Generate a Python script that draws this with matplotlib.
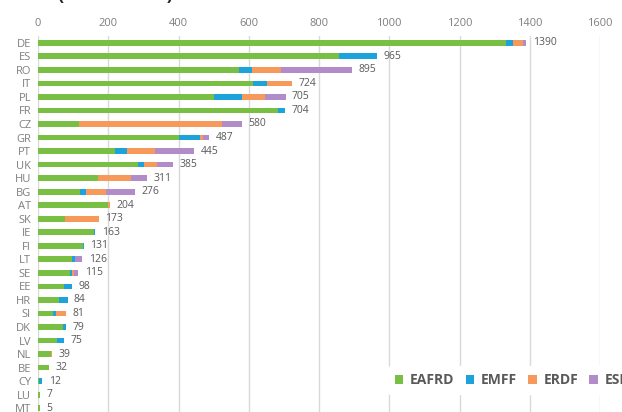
import numpy as np
import matplotlib.pyplot as plt

plt.rcParams['font.family'] = ['Open Sans', 'DejaVu Sans']

countries = ['DE', 'ES', 'RO', 'IT', 'PL', 'FR', 'CZ', 'GR', 'PT', 'UK', 'HU', 'BG', 'AT', 'SK',
             'IE', 'FI', 'LT', 'SE', 'EE', 'HR', 'SI', 'DK', 'LV', 'NL', 'BE', 'CY', 'LU', 'MT']
eafrd = [1333, 857, 573, 613, 501, 684, 117, 400, 219, 285, 172, 120, 200, 78,
         159, 129, 96, 91, 74, 61, 44, 70, 55, 38, 32, 3, 7, 5]
emff = [19, 108, 37, 40, 79, 20, 0, 61, 33, 16, 0, 17, 0, 0,
        4, 2, 10, 6, 24, 23, 7, 9, 20, 0, 0, 9, 0, 0]
erdf = [29, 0, 83, 71, 66, 0, 406, 10, 82, 38, 93, 58, 4, 95,
        0, 0, 0, 5, 0, 0, 30, 0, 0, 1, 0, 0, 0, 0]
esf = [9, 0, 202, 0, 59, 0, 57, 16, 111, 46, 46, 81, 0, 0,
       0, 0, 20, 13, 0, 0, 0, 0, 0, 0, 0, 0, 0, 0]

funds = ['EAFRD', 'EMFF', 'ERDF', 'ESF']
colors = ['#78bf43', '#1ca3dc', '#f7995a', '#b18cc8']

fig = plt.figure(figsize=(6.22, 4.12), dpi=100)
ax = fig.add_axes([38 / 622, 1 - 415 / 412, 562 / 622, (415 - 36) / 412])

y = np.arange(len(countries))
left = np.zeros(len(countries))
for name, vals, c in zip(funds, [eafrd, emff, erdf, esf], colors):
    vals = np.array(vals, dtype=float)
    ax.barh(y, vals, left=left, height=0.42, color=c, label=name, zorder=3)
    left += vals

for yi, total in zip(y, left):
    ax.text(total + 18, yi, f'{total:.0f}', va='center', ha='left', fontsize=7.5, color='#595959')

ax.set_xlim(0, 1600)
ax.set_ylim(len(countries) - 0.5, -0.5)
ax.set_xticks(np.arange(0, 1601, 200))
ax.set_yticks(y)
ax.set_yticklabels(countries)
ax.xaxis.tick_top()
ax.tick_params(axis='x', length=0, labelsize=8, labelcolor='#7f7f7f', pad=5)
ax.tick_params(axis='y', length=0, labelsize=8, labelcolor='#7f7f7f', pad=5)
ax.grid(axis='x', color='#d9d9d9', linewidth=1, zorder=0)
for s in ax.spines.values():
    s.set_visible(False)

fig.text(0.185, 1.012, '(EUR million)', ha='center', va='center', fontsize=13,
         fontweight='bold', color='#262626')

leg = fig.legend(loc='center left', bbox_to_anchor=(381 / 622, 1 - 380 / 412), ncol=4,
                 frameon=True, fontsize=10, handlelength=0.6, handleheight=0.6,
                 handletextpad=0.5, columnspacing=0.8, borderpad=0.5)
leg.get_frame().set_facecolor('white')
leg.get_frame().set_edgecolor('white')
leg.get_frame().set_alpha(1)
for t in leg.get_texts():
    t.set_color('#595959')
    t.set_fontweight('bold')

fig.savefig('out.png', dpi=100)
